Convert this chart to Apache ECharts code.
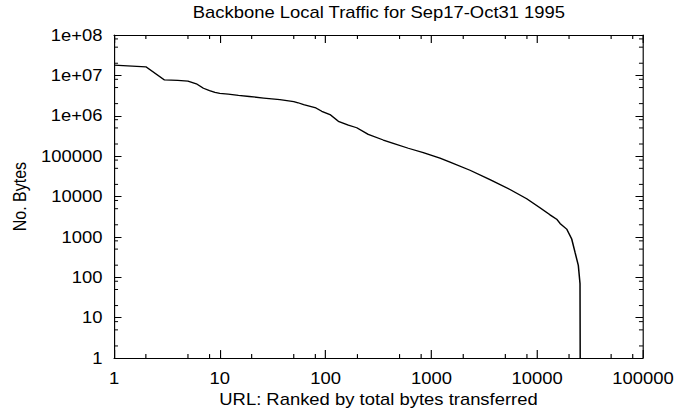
<!DOCTYPE html>
<html>
<head>
<meta charset="utf-8">
<title>Backbone Local Traffic</title>
<script src="https://cdn.jsdelivr.net/npm/echarts@6/dist/echarts.min.js"></script>
<style>
  html, body { margin: 0; padding: 0; background: #fff; overflow: hidden; }
  /* the plot is laid out on a narrower canvas and widened to the page, giving the wide lettering */
  #main { width: 600px; height: 412px; transform: scaleX(1.15167); transform-origin: 0 0; }
</style>
</head>
<body>
<div id="main"></div>
<script>
// URL rank (sorted by total bytes) and the bytes transferred for that URL
const ranks = [1, 2, 3, 4, 5, 6, 7, 8, 9, 10, 12, 15, 19, 26, 37, 50, 55, 62, 81, 92,
  110, 132, 164, 197, 253, 351, 436, 605, 838, 1205, 1500, 2317, 3580, 5530, 7960,
  10620, 13210, 15280, 16440, 19000, 21200, 22770, 24480, 25400, 25500];
const bytes = [18000000, 16300000, 7700000, 7500000, 7200000, 6200000, 4800000, 4200000,
  3800000, 3600000, 3450000, 3200000, 3000000, 2750000, 2500000, 2250000, 2100000,
  1880000, 1560000, 1290000, 1070000, 730000, 585000, 505000, 346000, 251000, 208000,
  157000, 123000, 89000, 71000, 44700, 26200, 14900, 8830, 5310, 3520, 2750, 2155,
  1563, 889, 420, 198, 70, 1];

// axis labels, one per decade
const xTickLabels = ['1', '10', '100', '1000', '10000', '100000'];
const yTickLabels = ['1', '10', '100', '1000', '10000', '100000', '1e+06', '1e+07', '1e+08'];

// short inner ticks between the decades
const xMinorTicks = [2, 5, 8, 20, 50, 80, 200, 500, 800, 2000, 5000, 8000, 20000, 50000, 80000];
const yMinorTicks = [2, 5, 8, 20, 50, 80, 200, 500, 800, 2000, 5000, 8000, 20000, 50000, 80000,
  200000, 500000, 800000, 2000000, 5000000, 8000000, 20000000, 50000000, 80000000];

const FONT = 'Liberation Sans';
const INK = '#000';
const MINOR_X_LEN = 4;
const MINOR_Y_LEN = 3.5;

const labelOf = (list) => (v) => list[Math.round(Math.log10(v))] || '';

function frameAxis(extra) {
  return Object.assign({
    type: 'log',
    logBase: 10,
    axisLine: { show: true, lineStyle: { color: INK, width: 1 } },
    splitLine: { show: false },
    minorTick: { show: false },
    minorSplitLine: { show: false }
  }, extra);
}

const chart = echarts.init(document.getElementById('main'), null, { renderer: 'svg' });

chart.setOption({
  animation: false,
  backgroundColor: '#fff',
  textStyle: { fontFamily: FONT, color: INK },
  title: {
    text: 'Backbone Local Traffic for Sep17-Oct31 1995',
    left: 329,
    top: 4,
    padding: 0,
    textAlign: 'center',
    textStyle: { fontFamily: FONT, fontSize: 16, fontWeight: 'normal', color: INK }
  },
  grid: { left: 99, right: 41.7, top: 35, bottom: 50, containLabel: false },
  xAxis: [
    frameAxis({
      position: 'bottom', min: 1, max: 100000, splitNumber: 5,
      name: 'URL: Ranked by total bytes transferred',
      nameLocation: 'middle', nameGap: 27,
      nameTextStyle: { fontFamily: FONT, fontSize: 16, color: INK },
      axisTick: { show: true, inside: true, length: 8, lineStyle: { color: INK, width: 1 } },
      axisLabel: { show: true, margin: 12, fontFamily: FONT, fontSize: 16, color: INK,
        formatter: labelOf(xTickLabels) }
    }),
    frameAxis({
      position: 'top', min: 1, max: 100000, splitNumber: 5,
      axisTick: { show: true, inside: true, length: 8, lineStyle: { color: INK, width: 1 } },
      axisLabel: { show: false }
    })
  ],
  yAxis: [
    frameAxis({
      position: 'left', min: 1, max: 100000000, splitNumber: 8,
      name: 'No. Bytes',
      nameLocation: 'middle', nameGap: 74, nameRotate: 90,
      nameTextStyle: { fontFamily: FONT, fontSize: 16, color: INK },
      axisTick: { show: true, inside: true, length: 6.5, lineStyle: { color: INK, width: 1 } },
      axisLabel: { show: true, margin: 10, fontFamily: FONT, fontSize: 16, color: INK,
        formatter: labelOf(yTickLabels) }
    }),
    frameAxis({
      position: 'right', min: 1, max: 100000000, splitNumber: 8,
      axisTick: { show: true, inside: true, length: 6.5, lineStyle: { color: INK, width: 1 } },
      axisLabel: { show: false }
    })
  ],
  series: [
    {
      type: 'line',
      name: 'bytes',
      xAxisIndex: 0,
      yAxisIndex: 0,
      data: ranks.map((r, i) => [r, bytes[i]]),
      showSymbol: false,
      symbol: 'none',
      smooth: false,
      lineStyle: { color: INK, width: 1.3 },
      silent: true
    },
    {
      // minor ticks on the bottom and top edges
      type: 'custom',
      xAxisIndex: 0,
      yAxisIndex: 0,
      silent: true,
      data: xMinorTicks.map(v => [v, 1]),
      renderItem: function (params, api) {
        const cs = params.coordSys;
        const x = api.coord([api.value(0), 1])[0];
        const st = { stroke: INK, lineWidth: 1 };
        return {
          type: 'group',
          children: [
            { type: 'line', shape: { x1: x, y1: cs.y + cs.height, x2: x, y2: cs.y + cs.height - MINOR_X_LEN }, style: st },
            { type: 'line', shape: { x1: x, y1: cs.y, x2: x, y2: cs.y + MINOR_X_LEN }, style: st }
          ]
        };
      }
    },
    {
      // minor ticks on the left and right edges
      type: 'custom',
      xAxisIndex: 0,
      yAxisIndex: 0,
      silent: true,
      data: yMinorTicks.map(v => [1, v]),
      renderItem: function (params, api) {
        const cs = params.coordSys;
        const y = api.coord([1, api.value(1)])[1];
        const st = { stroke: INK, lineWidth: 1 };
        return {
          type: 'group',
          children: [
            { type: 'line', shape: { x1: cs.x, y1: y, x2: cs.x + MINOR_Y_LEN, y2: y }, style: st },
            { type: 'line', shape: { x1: cs.x + cs.width, y1: y, x2: cs.x + cs.width - MINOR_Y_LEN, y2: y }, style: st }
          ]
        };
      }
    }
  ]
});
</script>
</body>
</html>
